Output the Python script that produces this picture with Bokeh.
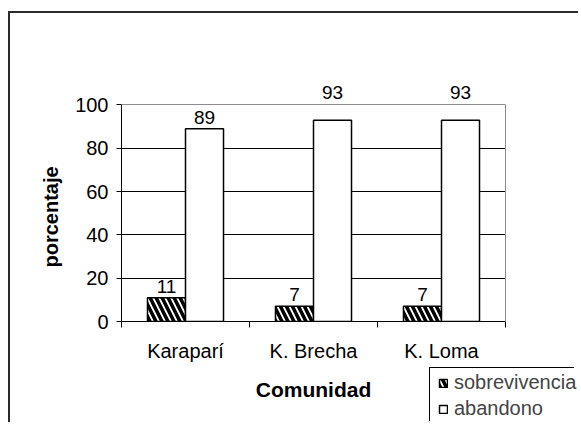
from bokeh.plotting import figure
from bokeh.models import Range1d, FixedTicker, ColumnDataSource, Legend, LegendItem, LinearAxis, Grid, Title
from bokeh.core.properties import value
from bokeh.embed import file_html
from bokeh.resources import INLINE

# ---- data ----
categories = ["Karaparí", "K. Brecha", "K. Loma"]
sobrevivencia = [11, 7, 7]
abandono = [89, 93, 93]
series_names = ["sobrevivencia", "abandono"]
y_ticks = [0, 20, 40, 60, 80, 100]
x_title = "Comunidad"
y_title = "porcentaje"

# ---- style ----
FONT = "Liberation Sans"
BW = 0.297
Y_HEADROOM = 115            # room above 100 for the value labels
lift_sob = [11, 12, 12]     # label lift in px above the bar top
lift_aba = [11, 28, 28]

n = len(categories)
centers = [i + 0.5 for i in range(n)]
bounds = [float(i) for i in range(n + 1)]

p = figure(width=570, height=411,
           x_range=Range1d(0, n), y_range=Range1d(y_ticks[0], Y_HEADROOM),
           output_backend="svg", toolbar_location=None,
           min_border_left=111, min_border_right=75,
           min_border_top=59, min_border_bottom=103,
           background_fill_color="white", border_fill_color="white",
           styles={"margin-left": "8px", "margin-top": "11px",
                   "border-left": "2px solid #2b2b2b",
                   "border-top": "2px solid #2b2b2b"})

src_sob = ColumnDataSource(dict(x=[c - BW / 2 for c in centers], top=sobrevivencia,
                                lbl=[str(v) for v in sobrevivencia],
                                yoff=[-l for l in lift_sob]))
src_aba = ColumnDataSource(dict(x=[c + BW / 2 for c in centers], top=abandono,
                                lbl=[str(v) for v in abandono],
                                yoff=[-l for l in lift_aba]))

hatch = dict(fill_color="white", line_color="black", line_width=1.5,
             hatch_pattern="\\", hatch_color="black", hatch_scale=12, hatch_weight=3.5)
plain = dict(fill_color="white", line_color="black", line_width=1.5)

p.vbar(x="x", top="top", width=BW, source=src_sob, **hatch)
p.vbar(x="x", top="top", width=BW, source=src_aba, **plain)

for src in (src_sob, src_aba):
    p.text(x="x", y="top", text="lbl", y_offset="yoff", source=src,
           text_align="center", text_baseline="middle",
           text_font=value(FONT), text_font_size=value("19px"), text_color="black")

# axes
p.xaxis.ticker = FixedTicker(ticks=centers, minor_ticks=bounds)
p.xaxis.major_label_overrides = {c: cat for c, cat in zip(centers, categories)}
p.xaxis.major_tick_line_color = None
p.xaxis.minor_tick_line_color = "black"
p.xaxis.minor_tick_out = 6
p.xaxis.minor_tick_in = 0
p.xaxis.major_label_standoff = 12
p.xaxis.axis_line_color = "black"
p.xaxis.axis_label = x_title
p.xaxis.axis_label_standoff = 13

p.yaxis.ticker = FixedTicker(ticks=y_ticks)
p.yaxis.bounds = (y_ticks[0], y_ticks[-1])
p.yaxis.major_tick_out = 5
p.yaxis.major_tick_in = 0
p.yaxis.minor_tick_line_color = None
p.yaxis.major_label_standoff = 8
p.yaxis.axis_line_color = "black"

for ax in (p.xaxis[0], p.yaxis[0]):
    ax.major_label_text_font = FONT
    ax.major_label_text_font_size = "20px"
    ax.major_label_text_color = "black"
    ax.axis_label_text_font = FONT
    ax.axis_label_text_font_style = "bold"
    ax.axis_label_text_color = "black"
p.xaxis.axis_label_text_font_size = "21px"

# y title, placed along the 0..100 part of the axis
p.add_layout(Title(text=y_title, align="left", offset=54, standoff=22,
                   text_font=FONT, text_font_size="20px", text_font_style="bold",
                   text_color="black"), "left")

# right edge of the plot area (grey), from 0 to 100
right_ax = LinearAxis(bounds=(y_ticks[0], y_ticks[-1]), ticker=FixedTicker(ticks=[]),
                      axis_line_color="#8c8c8c", axis_line_width=1,
                      major_tick_line_color=None, minor_tick_line_color=None,
                      major_label_text_font_size="0px")
p.add_layout(right_ax, "right")

p.xgrid.visible = False
p.ygrid.ticker = FixedTicker(ticks=y_ticks[1:-1])
p.ygrid.grid_line_color = "black"
p.ygrid.grid_line_width = 1
# top edge of the plot area (grey) at 100
p.add_layout(Grid(dimension=1, ticker=FixedTicker(ticks=[y_ticks[-1]]),
                  grid_line_color="#8c8c8c", grid_line_width=1))
p.outline_line_color = None

# ---- legend box: a second root that overlaps the chart's lower right corner ----
lg = figure(width=145, height=54, x_range=Range1d(0, 1), y_range=Range1d(1000, 1001),
            x_axis_type=None, y_axis_type=None,
            output_backend="svg", toolbar_location=None,
            min_border=0, min_border_left=0, min_border_right=0,
            min_border_top=0, min_border_bottom=0,
            background_fill_color="white", border_fill_color="white",
            outline_line_color=None,
            styles={"margin-left": "429px", "margin-top": "-55px",
                    "padding-left": "5px",
                    "border-left": "1px solid #000000",
                    "border-top": "1px solid #000000"})
lg.xgrid.visible = False
lg.ygrid.visible = False
# same series, drawn off-view; only their legend swatches show
l1 = lg.vbar(x="x", top="top", width=BW, source=src_sob, **hatch)
l2 = lg.vbar(x="x", top="top", width=BW, source=src_aba, **plain)
legend = Legend(items=[LegendItem(label=series_names[0], renderers=[l1]),
                       LegendItem(label=series_names[1], renderers=[l2])],
                location="top_left",
                label_text_font=FONT, label_text_font_size="20px",
                glyph_width=10, glyph_height=10, label_standoff=6,
                label_height=20, padding=0, spacing=3, margin=3,
                border_line_color=None, background_fill_alpha=0)
lg.add_layout(legend)

open("out.html", "w").write(file_html([p, lg], INLINE))
